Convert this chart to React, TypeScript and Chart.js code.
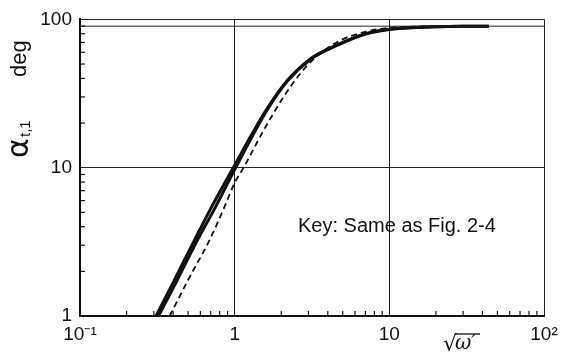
import React, { useEffect, useRef } from "react";
import Chart from "chart.js/auto";

// Axis ticks and labels
const xTicks = [0.1, 1, 10, 100];
const xTickLabels = ["10⁻¹", "1", "10", "10²"];
const yTicks = [1, 10, 100];
const yTickLabels = ["1", "10", "100"];
const xMinor = [0.2, 0.3, 0.4, 0.5, 0.6, 0.7, 0.8, 0.9, 2, 3, 4, 5, 6, 7, 8, 9, 20, 30, 40, 50, 60, 70, 80, 90];
const yMinor = [2, 3, 4, 5, 6, 7, 8, 9, 20, 30, 40, 50, 60, 70, 80, 90];

// Solid curve (upper edge of the band)
const solidAX = [0.31, 0.4, 0.55, 0.7, 1, 1.3, 1.64, 2.2, 3.07, 4, 5, 7, 10, 15, 20, 30, 44];
const solidAY = [1, 1.68, 3.25, 5.3, 10.4, 17, 25.5, 39, 54, 63, 70, 80, 86, 88.5, 89.3, 89.8, 90];

// Solid curve (lower edge of the band)
const solidBX = [0.322, 0.42, 0.57, 0.75, 1, 1.3, 1.64, 2.2, 3.07, 4, 5, 7, 10, 15, 20, 30, 44];
const solidBY = [1, 1.7, 3.2, 5.4, 9.7, 16.3, 25, 38.5, 53.5, 62.5, 69.5, 79.5, 85.5, 88.3, 89.2, 89.8, 90];

// Dashed curve
const dashedX = [0.38, 0.5, 0.69, 0.85, 1, 1.16, 1.5, 2.07, 2.65, 3.3, 4.8, 7, 10, 15, 28];
const dashedY = [1, 1.75, 3.27, 5.3, 7.9, 10.3, 17, 30, 43, 55, 72, 82.5, 87.8, 89.5, 90];

// Asymptote at 90 deg
const asymptoteX = [0.1, 100];
const asymptoteY = [90, 90];

const FONT = "'Liberation Sans', Arial, sans-serif";
const INK = "#111";

const pts = (xs: number[], ys: number[]) => xs.map((x, i) => ({ x, y: ys[i] }));

const decorPlugin = {
  id: "decor",
  afterDatasetsDraw(chart: any) {
    const { ctx, chartArea, scales } = chart;
    const xs = scales.x;
    const ys = scales.y;
    ctx.save();
    ctx.strokeStyle = INK;
    ctx.lineWidth = 1.2;
    // minor ticks pointing inwards
    xMinor.forEach((v) => {
      const px = xs.getPixelForValue(v);
      ctx.beginPath();
      ctx.moveTo(px, chartArea.bottom);
      ctx.lineTo(px, chartArea.bottom - 5);
      ctx.stroke();
    });
    yMinor.forEach((v) => {
      const py = ys.getPixelForValue(v);
      ctx.beginPath();
      ctx.moveTo(chartArea.left, py);
      ctx.lineTo(chartArea.left + 5, py);
      ctx.stroke();
    });

    // key note
    ctx.fillStyle = INK;
    ctx.font = `20px ${FONT}`;
    ctx.textAlign = "left";
    ctx.textBaseline = "middle";
    ctx.fillText("Key: Same as Fig. 2-4", 298, 226);

    // x-axis title: sqrt(omega')
    ctx.font = `22px 'DejaVu Sans', sans-serif`;
    ctx.textBaseline = "alphabetic";
    ctx.fillText("√", 443, 351);
    ctx.font = `italic 20px 'DejaVu Serif', serif`;
    ctx.fillText("ω′", 455, 349);
    ctx.lineWidth = 1.3;
    ctx.beginPath();
    ctx.moveTo(455, 334);
    ctx.lineTo(480, 334);
    ctx.stroke();

    // y-axis title, rotated
    ctx.translate(28, 0);
    ctx.rotate(-Math.PI / 2);
    ctx.textBaseline = "alphabetic";
    ctx.font = `30px 'DejaVu Sans', sans-serif`;
    ctx.fillText("α", -158, 0);
    ctx.font = `15px ${FONT}`;
    ctx.fillText("t,1", -137, 2);
    ctx.font = `22px ${FONT}`;
    ctx.fillText("deg", -77, -2);
    ctx.restore();
  },
};

export default function App() {
  const ref = useRef<HTMLCanvasElement | null>(null);

  useEffect(() => {
    if (!ref.current) return;
    const tickFont = { family: FONT, size: 19 };
    const chart = new Chart(ref.current, {
      type: "scatter",
      data: {
        datasets: [
          {
            data: pts(asymptoteX, asymptoteY),
            showLine: true,
            borderColor: "#222",
            borderWidth: 1,
            pointRadius: 0,
          },
          {
            data: pts(solidAX, solidAY),
            showLine: true,
            borderColor: INK,
            borderWidth: 3,
            pointRadius: 0,
            cubicInterpolationMode: "monotone",
          },
          {
            data: pts(solidBX, solidBY),
            showLine: true,
            borderColor: INK,
            borderWidth: 3,
            pointRadius: 0,
            cubicInterpolationMode: "monotone",
          },
          {
            data: pts(dashedX, dashedY),
            showLine: true,
            borderColor: INK,
            borderWidth: 1.8,
            borderDash: [6, 4],
            pointRadius: 0,
            cubicInterpolationMode: "monotone",
          },
        ],
      },
      options: {
        responsive: false,
        animation: false,
        layout: { padding: { left: 8, top: 18, right: 28, bottom: 0 } },
        plugins: { legend: { display: false }, tooltip: { enabled: false } },
        scales: {
          x: {
            type: "logarithmic",
            min: 0.1,
            max: 100,
            afterBuildTicks: (s: any) => {
              s.ticks = xTicks.map((v) => ({ value: v }));
            },
            afterFit: (s: any) => {
              s.height = 37;
            },
            ticks: {
              callback: (_v: any, i: number) => xTickLabels[i],
              font: tickFont,
              color: INK,
              padding: 7,
              maxRotation: 0,
              autoSkip: false,
            },
            grid: { color: "#222", lineWidth: 1, drawTicks: false },
            border: { color: INK, width: 2 },
          },
          y: {
            type: "logarithmic",
            min: 1,
            max: 100,
            afterBuildTicks: (s: any) => {
              s.ticks = yTicks.map((v) => ({ value: v }));
            },
            afterFit: (s: any) => {
              s.width = 72;
            },
            ticks: {
              callback: (_v: any, i: number) => yTickLabels[i],
              font: tickFont,
              color: INK,
              padding: 8,
              autoSkip: false,
            },
            grid: { color: "#222", lineWidth: 1, drawTicks: false },
            border: { color: INK, width: 2 },
          },
        },
      },
      plugins: [decorPlugin],
    } as any);
    return () => chart.destroy();
  }, []);

  return (
    <div style={{ position: "fixed", left: 0, top: 0, width: 572, height: 353, background: "#fff" }}>
      <canvas ref={ref} width={572} height={353} />
    </div>
  );
}
